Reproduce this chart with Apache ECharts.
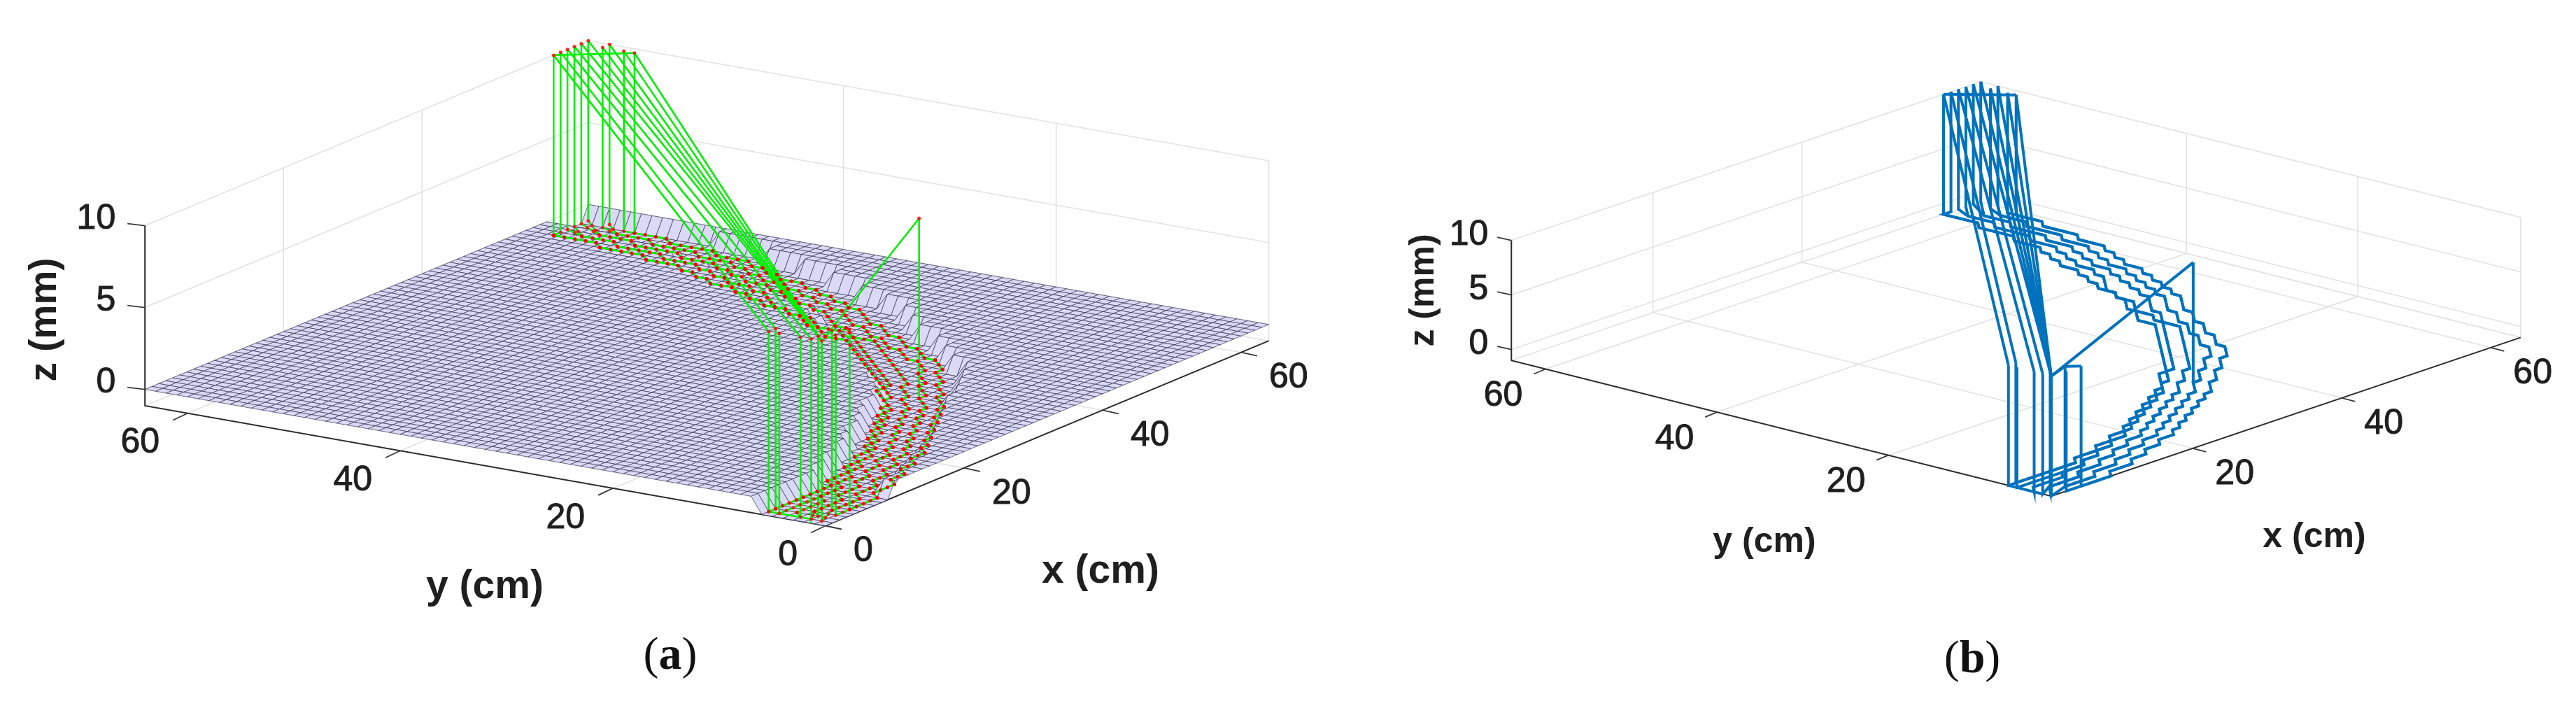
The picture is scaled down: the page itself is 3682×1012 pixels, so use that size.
<!DOCTYPE html>
<html>
<head>
<meta charset="utf-8">
<title>Tool path over surface</title>
<script src="https://cdn.jsdelivr.net/npm/echarts@6/dist/echarts.min.js"></script>
<style>
  html, body { margin: 0; padding: 0; background: #fff; }
  #chart { width: 3682px; height: 1012px; }
</style>
</head>
<body>
<div id="chart"></div>
<script>
// axis ticks (cm, mm)
const ticksA = [0, 20, 40, 60];
const ticksB = [20, 40, 60];
const zTicks = [0, 5, 10];
const gridLines = [20, 40, 60];
const zFloor = -1;
const zSafe = 10;
const axisEnd = 64;

// trench in the surface: first and last cut x (cm) for each y row 0..64
const trenchFrom = [0,0,0,0,0,0,0,10,13,16,19,21,24,26,28,31,33,35,35,37,38,39,40,41,42,43,44,45,46,46,46,48,48,50,50,50,51,51,51,53,53,53,53,55,55,55,55,56,56,56,56,58,58,58,58,58,58,59,59,59,59,59,59,59,59];
const trenchTo = [9,9,13,16,19,22,24,26,28,30,32,35,37,39,41,42,42,44,44,46,46,48,48,48,50,50,52,52,54,54,54,55,55,55,57,57,57,57,59,59,59,59,60,60,60,60,62,62,62,62,62,62,63,63,63,63,63,63,63,63,63,63,63,63,63];

// stepped tool tracks, (x, y) corners in cm, outermost first
const band0 = [[5,1],[9,1],[10,2],[13,2],[14,3],[16,3],[17,4],[19,4],[20,5],[22,5],[23,6],[24,6],[25,7],[26,7],[27,8],[28,8],[29,9],[30,9],[31,10],[32,10],[33,11],[34,11],[36,13],[37,13],[39,15],[40,15],[42,17],[43,17],[45,19],[45,20],[47,22],[47,23],[49,25],[49,26],[51,28],[51,29],[53,31],[54,32],[54,33],[55,34],[55,35],[56,36],[56,37],[57,38],[57,39],[58,40],[58,42],[59,43],[59,44],[60,45],[60,46],[61,47],[61,50],[62,51],[62,55],[63,56],[63,59]];
const band1 = [[4,2],[8,2],[9,3],[12,3],[13,4],[15,4],[16,5],[18,5],[19,6],[21,6],[22,7],[23,7],[24,8],[25,8],[26,9],[27,9],[28,10],[29,10],[30,11],[31,11],[32,12],[33,12],[35,14],[36,14],[38,16],[39,16],[41,18],[42,18],[44,20],[44,21],[46,23],[46,24],[48,26],[48,27],[50,29],[50,30],[52,32],[53,33],[53,34],[54,35],[54,36],[55,37],[55,38],[56,39],[56,40],[57,41],[57,43],[58,44],[58,45],[59,46],[59,47],[60,48],[60,51],[61,52],[61,56],[62,57],[62,60]];
const band2 = [[3,3],[7,3],[8,4],[11,4],[12,5],[14,5],[15,6],[17,6],[18,7],[20,7],[21,8],[22,8],[23,9],[24,9],[25,10],[26,10],[27,11],[28,11],[29,12],[30,12],[31,13],[32,13],[34,15],[35,15],[37,17],[38,17],[47,26],[47,28],[49,30],[49,31],[51,33],[52,34],[52,35],[53,36],[53,37],[54,38],[54,39],[55,40],[55,41],[56,42],[56,44],[57,45],[57,46],[58,47],[58,48],[59,49],[59,52],[60,53],[60,57],[61,58],[61,61]];
const band3 = [[2,4],[6,4],[7,5],[10,5],[11,6],[13,6],[14,7],[16,7],[17,8],[19,8],[20,9],[21,9],[22,10],[23,10],[24,11],[25,11],[26,12],[27,12],[28,13],[29,13],[30,14],[31,14],[33,16],[34,16],[36,18],[37,18],[47,28],[47,29],[48,30],[48,32],[50,34],[50,36],[51,37],[51,38],[53,40],[54,41],[54,42],[55,43],[55,45],[56,46],[56,47],[57,48],[57,49],[58,50],[58,53],[59,54],[59,58],[60,59],[60,62]];
const band4 = [[1,6],[10,6],[11,7],[14,7],[15,8],[17,8],[18,9],[20,9],[21,10],[22,10],[23,11],[24,11],[25,12],[26,12],[27,13],[28,13],[29,14],[30,14],[31,15],[32,15],[33,16],[35,18],[36,18],[46,28],[46,30],[48,32],[48,33],[50,35],[50,36],[51,37],[51,39],[52,40],[52,41],[53,42],[53,43],[54,44],[54,46],[55,47],[55,48],[56,49],[56,50],[57,51],[57,54],[58,55],[58,59],[59,60],[59,64]];
const bands = [band0, band1, band2, band3, band4];

// one entry per pass: plunge point, retract point, track used
const passStart = [[1,6],[2,6],[1,5],[1,3],[1,2],[2,2],[1,1],[4,2],[3,1],[5,1]];
const passEnd = [[59,64],[60,64],[61,64],[62,64],[63,64],[64,64],[63,62],[64,62],[63,60],[63,59]];
const passBand = [4, 4, 3, 3, 2, 2, 1, 1, 0, 0];

// rapid moves: [x, y, z] from, [x, y, z] to
const rapidMoves = [
  [[59,64,10],[1,6,10]], [[60,64,10],[2,6,10]], [[61,64,10],[1,3,10]], [[62,64,10],[1,2,10]],
  [[63,64,10],[1,1,10]], [[64,64,10],[2,2,10]], [[63,62,10],[1,1,10]], [[64,62,10],[2,2,10]],
  [[63,60,10],[1,1,10]], [[63,59,10],[1,1,10]],
  [[59,64,10],[63,59,10]], [[1,6,-1],[1,2,-1]], [[1,1,10],[4,2,10]], [[4,2,10],[5,1,10]],
  [[1,1,10],[35,14,10]], [[35,14,10],[35,14,-1]],
];

const textColor = '#1f1f1f';
const tickFont = '50px "Liberation Sans"';

// page positions of each panel, all in panel-local pixels
const panelA = {
  grid: 0, lo: 0, origin: [1180, 751.5], ux: [9.9, -4.13], uy: [-15.2, -2.68], uz: 23.4,
  xTicks: ticksA, yTicks: ticksA,
  xTickDir: [23, 5], yTickDir: [-21, 10], zTickDir: [-25, -3],
  xLabel: [40, 37], yLabel: [-40, 43], zLabel: [-42, -9],
  titles: [
    { text: 'x (cm)', x: 1573, y: 817, size: 57 },
    { text: 'y (cm)', x: 693, y: 839, size: 57 },
    { text: 'z (mm)', x: 65, y: 457, size: 55, rotate: true },
  ],
  caption: { x: 958, y: 939, text: 'a' },
};
const panelB = {
  grid: 1, lo: 1, origin: [1091, 709.2], ux: [10.65, -3.6], uy: [-12.25, -3.08], uz: 15.6,
  xTicks: ticksB, yTicks: ticksB,
  xTickDir: [19, 5], yTickDir: [-17, 7], zTickDir: [-20, -4.5],
  xLabel: [32, 37], yLabel: [-33, 39], zLabel: [-33, -7],
  titles: [
    { text: 'x (cm)', x: 1467, y: 768, size: 50 },
    { text: 'y (cm)', x: 681, y: 775, size: 50 },
    { text: 'z (mm)', x: 194, y: 415, size: 50, rotate: true },
  ],
  caption: { x: 978, y: 944, text: 'b' },
};

function project(panel, x, y, z) {
  const dx = x - panel.lo;
  const dy = y - panel.lo;
  return [
    panel.origin[0] + dx * panel.ux[0] + dy * panel.uy[0],
    panel.origin[1] + dx * panel.ux[1] + dy * panel.uy[1] - (z - zFloor) * panel.uz,
  ];
}

function surfaceZ(x, y) {
  return x >= trenchFrom[y] && x <= trenchTo[y] ? zFloor : 0;
}

function passPaths() {
  return passStart.map((start, i) => {
    const end = passEnd[i];
    const track = bands[passBand[i]].filter((p) => p[0] >= start[0] && p[1] >= start[1]);
    const floor = [start].concat(track, [end]).map((p) => [p[0], p[1], zFloor]);
    return [[start[0], start[1], zSafe]].concat(floor, [[end[0], end[1], zSafe]]);
  });
}

function boxPaths(panel) {
  const lo = panel.lo;
  const hi = axisEnd;
  const paths = [];
  gridLines.forEach((v) => {
    // floor
    paths.push([[v, lo, zFloor], [v, hi, zFloor]]);
    paths.push([[lo, v, zFloor], [hi, v, zFloor]]);
    // side and back wall
    paths.push([[v, hi, zFloor], [v, hi, zSafe]]);
    paths.push([[hi, v, zFloor], [hi, v, zSafe]]);
  });
  zTicks.forEach((z) => {
    paths.push([[lo, hi, z], [hi, hi, z]]);
    paths.push([[hi, lo, z], [hi, hi, z]]);
  });
  paths.push([[lo, hi, zFloor], [hi, hi, zFloor]]);
  paths.push([[hi, lo, zFloor], [hi, hi, zFloor]]);
  paths.push([[hi, hi, zFloor], [hi, hi, zSafe]]);
  paths.push([[hi, lo, zFloor], [hi, lo, zSafe]]);
  return paths.map((p) => p.map((q) => project(panel, q[0], q[1], q[2])));
}

function axisPaths(panel) {
  const lo = panel.lo;
  const hi = axisEnd;
  return [
    [project(panel, lo, hi, zSafe), project(panel, lo, hi, zFloor), project(panel, lo, lo, zFloor), project(panel, hi, lo, zFloor)],
  ];
}

function tickPaths(panel) {
  const lo = panel.lo;
  const paths = [];
  const add = (p, dir) => paths.push([p, [p[0] + dir[0], p[1] + dir[1]]]);
  panel.xTicks.forEach((v) => add(project(panel, v, lo, zFloor), panel.xTickDir));
  panel.yTicks.forEach((v) => add(project(panel, lo, v, zFloor), panel.yTickDir));
  zTicks.forEach((v) => add(project(panel, lo, axisEnd, v), panel.zTickDir));
  return paths;
}

function textItems(panel) {
  const lo = panel.lo;
  const items = [];
  const add = (v, p, off, align) => items.push({
    type: 'tick', text: String(v), x: p[0] + off[0], y: p[1] + off[1], align: align,
  });
  panel.xTicks.forEach((v) => add(v, project(panel, v, lo, zFloor), panel.xLabel, 'left'));
  panel.yTicks.forEach((v) => add(v, project(panel, lo, v, zFloor), panel.yLabel, 'right'));
  zTicks.forEach((v) => add(v, project(panel, lo, axisEnd, v), panel.zLabel, 'right'));
  panel.titles.forEach((t) => items.push(Object.assign({ type: 'title' }, t)));
  items.push(Object.assign({ type: 'caption' }, panel.caption));
  return items;
}

function lineSeries(panel, paths, color, width, z) {
  return {
    type: 'custom',
    coordinateSystem: 'cartesian2d',
    xAxisIndex: panel.grid,
    yAxisIndex: panel.grid,
    clip: false,
    silent: true,
    z: z,
    data: paths.map((_, i) => [i]),
    renderItem: function (params, api) {
      const pts = paths[api.value(0)].map((p) => api.coord(p));
      return {
        type: 'polyline',
        shape: { points: pts },
        style: { stroke: color, lineWidth: width, fill: null, lineJoin: 'miter' },
      };
    },
  };
}

function surfaceSeries(panel) {
  const cells = [];
  for (let x = axisEnd - 1; x >= 0; x--) {
    for (let y = axisEnd - 1; y >= 0; y--) {
      cells.push([x, y]);
    }
  }
  return {
    type: 'custom',
    coordinateSystem: 'cartesian2d',
    xAxisIndex: panel.grid,
    yAxisIndex: panel.grid,
    clip: false,
    silent: true,
    progressive: 0,
    z: 3,
    data: cells,
    renderItem: function (params, api) {
      const x = api.value(0);
      const y = api.value(1);
      const corners = [[x, y], [x + 1, y], [x + 1, y + 1], [x, y + 1]];
      const pts = corners.map((c) => api.coord(project(panel, c[0], c[1], surfaceZ(c[0], c[1]))));
      return {
        type: 'polygon',
        shape: { points: pts },
        style: { fill: '#dadaf6', stroke: 'rgba(44,44,72,0.68)', lineWidth: 1 },
      };
    },
  };
}

function dotSeries(panel) {
  const dots = [];
  passPaths().forEach((path) => {
    for (let i = 1; i < path.length; i++) {
      const a = path[i - 1];
      const b = path[i];
      if (a[2] === zFloor && b[2] === zFloor) {
        const n = Math.max(Math.abs(b[0] - a[0]), Math.abs(b[1] - a[1]));
        for (let k = 0; k <= n; k++) {
          const t = n ? k / n : 0;
          dots.push(project(panel, a[0] + (b[0] - a[0]) * t, a[1] + (b[1] - a[1]) * t, zFloor));
        }
      }
    }
    dots.push(project(panel, path[0][0], path[0][1], zSafe));
    const last = path[path.length - 1];
    dots.push(project(panel, last[0], last[1], zSafe));
  });
  dots.push(project(panel, 35, 14, zSafe));
  dots.push(project(panel, 35, 14, zFloor));
  return {
    type: 'scatter',
    xAxisIndex: panel.grid,
    yAxisIndex: panel.grid,
    symbol: 'circle',
    symbolSize: 5,
    silent: true,
    clip: false,
    z: 6,
    itemStyle: { color: '#ff0000' },
    data: dots,
  };
}

function textSeries(panel) {
  const items = textItems(panel);
  return {
    type: 'custom',
    coordinateSystem: 'cartesian2d',
    xAxisIndex: panel.grid,
    yAxisIndex: panel.grid,
    clip: false,
    silent: true,
    z: 8,
    data: items.map((_, i) => [i]),
    renderItem: function (params, api) {
      const it = items[api.value(0)];
      const pos = api.coord([it.x, it.y]);
      if (it.type === 'tick') {
        return {
          type: 'text', x: pos[0], y: pos[1],
          style: { text: it.text, font: tickFont, fill: textColor, stroke: textColor, lineWidth: 1, align: it.align, verticalAlign: 'middle' },
        };
      }
      if (it.type === 'title') {
        return {
          type: 'text', x: pos[0], y: pos[1], rotation: it.rotate ? Math.PI / 2 : 0,
          style: { text: it.text, font: 'bold ' + it.size + 'px "Liberation Sans"', fill: textColor, align: 'center', verticalAlign: 'middle' },
        };
      }
      return {
        type: 'text', x: pos[0], y: pos[1],
        style: {
          text: '{n|(}{b|' + it.text + '}{n|)}',
          align: 'center', verticalAlign: 'middle',
          rich: {
            n: { font: '66px "Liberation Serif"', fill: '#111' },
            b: { font: 'bold 66px "Liberation Serif"', fill: '#111' },
          },
        },
      };
    },
  };
}

function panelSeries(panel, withSurface) {
  const list = [lineSeries(panel, boxPaths(panel), '#e2e2e2', 1.6, 1)];
  const toPts = (p) => p.map((q) => project(panel, q[0], q[1], q[2]));
  const tool = passPaths().map(toPts).concat(rapidMoves.map(toPts));
  list.push(lineSeries(panel, axisPaths(panel), '#2b2b2b', 2, 2));
  list.push(lineSeries(panel, tickPaths(panel), '#3a3a3a', 1.8, 2));
  if (withSurface) {
    list.push(surfaceSeries(panel));
    list.push(lineSeries(panel, tool, '#00f000', 2.6, 5));
    list.push(dotSeries(panel));
  } else {
    list.push(lineSeries(panel, tool, '#0072bd', 4, 5));
  }
  list.push(textSeries(panel));
  return list;
}

const chart = echarts.init(document.getElementById('chart'), null, { renderer: 'canvas' });
const hiddenX = { type: 'value', min: 0, max: 1841, show: false };
const hiddenY = { type: 'value', min: 0, max: 1012, inverse: true, show: false };
chart.setOption({
  animation: false,
  backgroundColor: '#ffffff',
  grid: [
    { left: 0, top: 0, width: 1841, height: 1012 },
    { left: 1841, top: 0, width: 1841, height: 1012 },
  ],
  xAxis: [Object.assign({ gridIndex: 0 }, hiddenX), Object.assign({ gridIndex: 1 }, hiddenX)],
  yAxis: [Object.assign({ gridIndex: 0 }, hiddenY), Object.assign({ gridIndex: 1 }, hiddenY)],
  series: panelSeries(panelA, true).concat(panelSeries(panelB, false)),
});
</script>
</body>
</html>
